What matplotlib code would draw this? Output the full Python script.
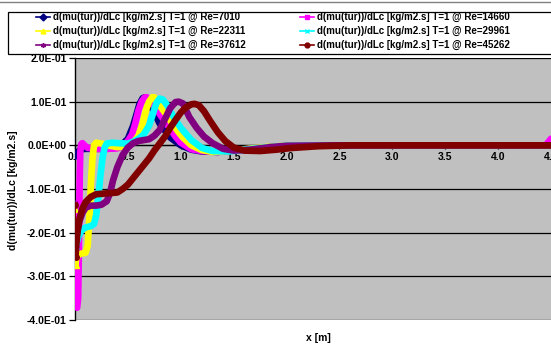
import numpy as np
import matplotlib.pyplot as plt
from matplotlib.lines import Line2D
from matplotlib.patches import Rectangle

plt.rcParams['font.family'] = ['Liberation Sans', 'DejaVu Sans']
plt.rcParams['font.weight'] = 'bold'

labels = ["d(mu(tur))/dLc [kg/m2.s] T=1 @ Re=7010",
          "d(mu(tur))/dLc [kg/m2.s] T=1 @ Re=14660",
          "d(mu(tur))/dLc [kg/m2.s] T=1 @ Re=22311",
          "d(mu(tur))/dLc [kg/m2.s] T=1 @ Re=29961",
          "d(mu(tur))/dLc [kg/m2.s] T=1 @ Re=37612",
          "d(mu(tur))/dLc [kg/m2.s] T=1 @ Re=45262"]
colors = ["#000080", "#FF00FF", "#FFFF00", "#00FFFF", "#800080", "#800000"]
markers = ["D", "s", "^", "x", (6, 2, 0), "o"]

x_7010 = [0.0, 0.02, 0.04, 0.06, 0.1, 0.2, 0.3, 0.4, 0.45, 0.5, 0.55, 0.58, 0.61, 0.64, 0.66,
          0.69, 0.73, 0.8, 0.9, 1.0, 1.1, 1.2, 1.35, 1.5, 1.7, 1.9, 2.1, 2.5, 3.0, 3.5, 4.0, 4.5]
y_7010 = [-0.022, -0.018, -0.012, -0.009, -0.008, -0.008, -0.008, -0.005, 0.003, 0.015, 0.045,
          0.07, 0.095, 0.108, 0.11, 0.102, 0.085, 0.05, 0.018, 0.0, -0.01, -0.014, -0.015,
          -0.012, -0.007, -0.003, -0.001, 0.0, 0.0, 0.0, 0.0, 0.0]

x_14660 = [0.0, 0.005, 0.01, 0.02, 0.03, 0.035, 0.04, 0.045, 0.05, 0.06, 0.07, 0.09, 0.12, 0.2,
           0.3, 0.4, 0.45, 0.5, 0.54, 0.57, 0.6, 0.63, 0.66, 0.68, 0.71, 0.75, 0.8, 0.85, 0.9,
           0.95, 1.0, 1.1, 1.2, 1.35, 1.5, 1.7, 1.9, 2.1, 2.5, 3.0, 3.5, 4.0, 4.45, 4.5]
y_14660 = [-0.19, -0.33, -0.37, -0.372, -0.35, -0.27, -0.16, -0.07, -0.015, 0.003, 0.005, 0.0,
           -0.006, -0.008, -0.008, -0.007, -0.002, 0.01, 0.025, 0.05, 0.08, 0.1, 0.11, 0.11,
           0.1, 0.09, 0.072, 0.055, 0.038, 0.02, 0.006, -0.009, -0.013, -0.015, -0.012, -0.007,
           -0.003, -0.001, 0.0, 0.0, 0.0, 0.0, 0.0, 0.015]

x_22311 = [0.0, 0.005, 0.01, 0.03, 0.06, 0.1, 0.12, 0.135, 0.15, 0.165, 0.18, 0.2, 0.25, 0.3,
           0.4, 0.5, 0.55, 0.6, 0.64, 0.67, 0.7, 0.73, 0.75, 0.78, 0.82, 0.87, 0.92, 0.97, 1.02,
           1.1, 1.2, 1.3, 1.45, 1.6, 1.8, 2.0, 2.5, 3.0, 3.5, 4.0, 4.5]
y_22311 = [-0.145, -0.275, -0.26, -0.25, -0.248, -0.246, -0.23, -0.17, -0.09, -0.03, 0.0,
           0.006, 0.004, 0.0, -0.004, -0.003, 0.006, 0.022, 0.05, 0.08, 0.1, 0.11, 0.11, 0.1,
           0.085, 0.068, 0.05, 0.033, 0.018, 0.0, -0.011, -0.015, -0.013, -0.009, -0.004,
           -0.001, 0.0, 0.0, 0.0, 0.0, 0.0]

x_29961 = [0.0, 0.01, 0.03, 0.06, 0.1, 0.15, 0.18, 0.2, 0.22, 0.24, 0.26, 0.28, 0.3, 0.35, 0.4,
           0.5, 0.55, 0.6, 0.65, 0.7, 0.74, 0.77, 0.8, 0.83, 0.87, 0.92, 1.0, 1.1, 1.2, 1.3,
           1.45, 1.6, 1.8, 2.0, 2.5, 3.0, 3.5, 4.0, 4.5]
y_29961 = [-0.235, -0.23, -0.21, -0.195, -0.188, -0.185, -0.18, -0.16, -0.12, -0.07, -0.03,
           -0.005, 0.004, 0.006, 0.005, 0.004, 0.008, 0.015, 0.025, 0.045, 0.075, 0.097, 0.107,
           0.105, 0.092, 0.07, 0.04, 0.012, -0.006, -0.013, -0.014, -0.01, -0.005, -0.001,
           0.0, 0.0, 0.0, 0.0, 0.0]

x_37612 = [0.0, 0.005, 0.02, 0.04, 0.07, 0.1, 0.15, 0.2, 0.25, 0.3, 0.33, 0.36, 0.4, 0.45, 0.5,
           0.55, 0.6, 0.65, 0.7, 0.75, 0.8, 0.85, 0.9, 0.95, 0.98, 1.02, 1.08, 1.15, 1.22, 1.3,
           1.4, 1.5, 1.65, 1.85, 2.0, 2.5, 3.0, 3.5, 4.0, 4.5]
y_37612 = [-0.133, -0.23, -0.2, -0.175, -0.155, -0.143, -0.138, -0.138, -0.136, -0.128, -0.11,
           -0.08, -0.05, -0.022, -0.005, 0.005, 0.01, 0.012, 0.014, 0.022, 0.035, 0.06, 0.085,
           0.099, 0.1, 0.096, 0.065, 0.04, 0.02, 0.005, -0.008, -0.012, -0.01, -0.004, -0.001,
           0.0, 0.0, 0.0, 0.0, 0.0]

x_45262 = [0.0, 0.005, 0.01, 0.02, 0.04, 0.07, 0.1, 0.15, 0.2, 0.3, 0.4, 0.45, 0.5, 0.55, 0.6,
           0.65, 0.7, 0.75, 0.8, 0.85, 0.9, 0.95, 1.0, 1.05, 1.1, 1.13, 1.17, 1.22, 1.28, 1.35,
           1.42, 1.5, 1.6, 1.75, 1.9, 2.05, 2.3, 2.6, 3.0, 3.5, 4.0, 4.5]
y_45262 = [-0.137, -0.255, -0.235, -0.205, -0.17, -0.145, -0.13, -0.118, -0.112, -0.11, -0.108,
           -0.1, -0.09, -0.075, -0.06, -0.045, -0.03, -0.012, 0.004, 0.02, 0.04, 0.058, 0.075,
           0.087, 0.094, 0.095, 0.092, 0.078, 0.055, 0.03, 0.01, -0.005, -0.012, -0.013, -0.01,
           -0.006, -0.002, 0.0, 0.0, 0.0, 0.0, 0.0]

xs = [x_7010, x_14660, x_22311, x_29961, x_37612, x_45262]
ys = [y_7010, y_14660, y_22311, y_29961, y_37612, y_45262]

xticks = [0.0, 0.5, 1.0, 1.5, 2.0, 2.5, 3.0, 3.5, 4.0, 4.5]
yticks = [-0.4, -0.3, -0.2, -0.1, 0.0, 0.1, 0.2]
ytick_labels = ["-4.0E-01", "-3.0E-01", "-2.0E-01", "-1.0E-01", "0.0E+00", "1.0E-01", "2.0E-01"]

fig = plt.figure(figsize=(5.51, 3.47), dpi=100)
ax = fig.add_axes([75 / 551, 27 / 347, 476 / 551, 262 / 347])
ax.set_facecolor("#C0C0C0")

for i in range(len(xs)):
    # thin line with markers at the first two points, thick band from the 2nd point on
    ax.plot(xs[i], ys[i], color=colors[i], lw=1.2, marker=markers[i], ms=4, mew=1,
            markevery=[0, 1], zorder=3)
    ax.plot(xs[i][1:], ys[i][1:], color=colors[i], lw=4.8, solid_capstyle="round",
            solid_joinstyle="round", zorder=3)

ax.set_xlim(0, 4.5)
ax.set_ylim(-0.4, 0.2)
ax.set_xticks(xticks)
ax.set_xticklabels(["%.1f" % t for t in xticks])
ax.set_yticks(yticks)
ax.set_yticklabels(ytick_labels)
ax.yaxis.grid(True, color="black", lw=0.9)
ax.set_axisbelow(True)

ax.spines["top"].set_visible(False)
ax.spines["right"].set_visible(False)
ax.spines["bottom"].set_position(("data", 0))
ax.spines["bottom"].set_linewidth(0.9)
ax.spines["left"].set_linewidth(1.0)
ax.tick_params(axis="x", length=3, width=0.9, pad=2, labelsize=7.5)
ax.tick_params(axis="y", length=4, width=0.9, pad=2, labelsize=7.5)

fig.text(318 / 551, 1 - 338 / 347, "x [m]", ha="center", va="center", fontsize=7.5)
fig.text(13 / 551, 1 - 190 / 347, "d(mu(tur))/dLc [kg/m2.s]", ha="center", va="center",
         rotation=90, fontsize=7.5)

# legend frame
fig.add_artist(Rectangle((8 / 551, 1 - 54 / 347), 560 / 551, 42 / 347, transform=fig.transFigure,
                         facecolor="white", edgecolor="black", lw=0.9))
fig.add_artist(Line2D([0, 1], [1 - 1.5 / 347, 1 - 1.5 / 347], transform=fig.transFigure,
                      color="#808080", lw=1))

handles = [Line2D([], [], color=colors[i], lw=1.2, marker=markers[i], ms=3.5) for i in range(6)]
order = [0, 2, 4, 1, 3, 5]
fig.legend([handles[k] for k in order], [labels[k] for k in order], ncol=2, frameon=False,
           loc="upper left", bbox_to_anchor=(36 / 551, 1 - 12 / 347), borderpad=0,
           borderaxespad=0, handlelength=1.45, handletextpad=0.3, columnspacing=5.6,
           labelspacing=0.42, fontsize=7)

fig.savefig("out.png", dpi=100)
